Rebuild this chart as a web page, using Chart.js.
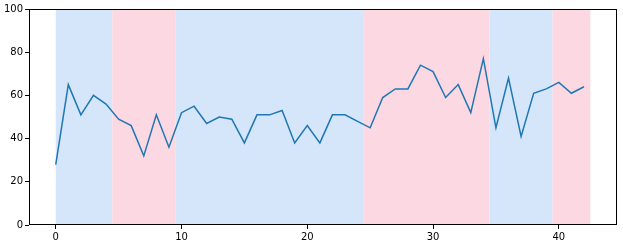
<!DOCTYPE html>
<html><head><meta charset="utf-8">
<script src="https://cdn.jsdelivr.net/npm/chart.js@4"></script>
<style>html,body{margin:0;padding:0;background:#fff}#wrap{width:623px;height:246px}</style>
</head><body><div id="wrap"><canvas id="c"></canvas></div>
<script>
const xValues = [0,1,2,3,4,5,6,7,8,9,10,11,12,13,14,15,16,17,18,19,20,21,22,23,24,25,26,27,28,29,30,31,32,33,34,35,36,37,38,39,40,41,42];
const yValues = [28,65,51,60,56,49,46,32,51,36,52,55,47,50,49,38,51,51,53,38,46,38,51,51,48,45,59,63,63,74,71,59,65,52,77,45,68,41,61,63,66,61,64];
const spanStarts = [-0.5,4.5,9.5,24.5,34.5,39.5];
const spanEnds   = [4.5,9.5,24.5,34.5,39.5,42.5];
const spanKinds  = ['blue','pink','blue','pink','blue','pink'];
const xTicks = [0,10,20,30,40];
const yTicks = [0,20,40,60,80,100];
const spanColors = {blue:'#d6e6fa', pink:'#fcd8e2'};

const spanPlugin = {
  id:'spans',
  beforeDatasetsDraw(chart){
    const {ctx, chartArea:a, scales:{x,y}} = chart;
    ctx.save();
    for(let i=0;i<spanStarts.length;i++){
      const s = Math.max(spanStarts[i], 0);
      const x0 = x.getPixelForValue(s), x1 = x.getPixelForValue(spanEnds[i]);
      ctx.fillStyle = spanColors[spanKinds[i]];
      ctx.fillRect(x0, y.getPixelForValue(100), x1-x0, y.getPixelForValue(0)-y.getPixelForValue(100));
    }
    ctx.restore();
  },
  afterDatasetsDraw(chart){
    const {ctx, chartArea:a} = chart;
    ctx.save();
    ctx.strokeStyle='#000'; ctx.lineWidth=1;
    ctx.strokeRect(a.left+0.5, a.top+0.5, a.right-a.left-1, a.bottom-a.top-1);
    ctx.restore();
  }
};

new Chart(document.getElementById('c'), {
  type:'line',
  data:{datasets:[{data:xValues.map((v,i)=>({x:v,y:yValues[i]})), borderColor:'#1f77b4', borderWidth:1.5, pointRadius:0, tension:0, fill:false}]},
  options:{
    responsive:true, maintainAspectRatio:false, animation:false,
    layout:{padding:{top:9,right:6,left:0,bottom:0}},
    plugins:{legend:{display:false}, tooltip:{enabled:false}},
    scales:{
      x:{type:'linear', min:-2.125, max:44.625,
        afterBuildTicks(s){ s.ticks = xTicks.map(v=>({value:v})); },
        afterFit(s){ s.height = 21; },
        grid:{drawOnChartArea:false, drawTicks:true, tickLength:4, color:'#000'},
        border:{display:false},
        ticks:{color:'#000', padding:2, font:{family:'DejaVu Sans', size:10}, maxRotation:0}
      },
      y:{min:0, max:100,
        afterBuildTicks(s){ s.ticks = yTicks.map(v=>({value:v})); },
        afterFit(s){ s.width = 29; },
        grid:{drawOnChartArea:false, drawTicks:true, tickLength:4, color:'#000'},
        border:{display:false},
        ticks:{color:'#000', padding:2, font:{family:'DejaVu Sans', size:10}}
      }
    }
  },
  plugins:[spanPlugin]
});
</script></body></html>
